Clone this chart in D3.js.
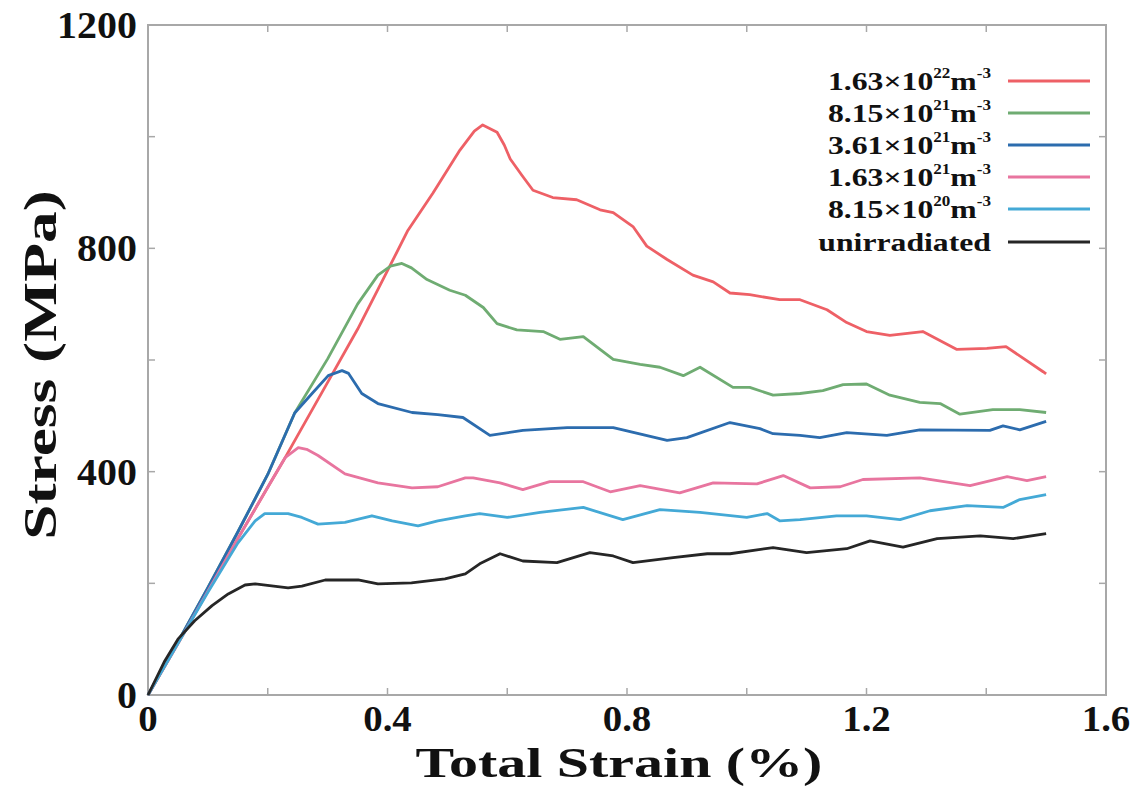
<!DOCTYPE html>
<html>
<head>
<meta charset="utf-8">
<script src="https://cdn.jsdelivr.net/npm/d3@7"></script>
<style>
  body { margin: 0; background: #fff; }
  text { font-family: "Liberation Serif", "Times New Roman", serif; font-weight: bold; fill: #111; }
</style>
</head>
<body>
<svg></svg>
<script>
const width = 1139;
const height = 789;

// strain (%) vs stress (MPa)
const red = [[0,0],[0.05,92],[0.1,186],[0.15,280],[0.2,372],[0.229,425],[0.25,465],[0.3,560],[0.35,655],[0.4,760],[0.434,832],[0.476,899],[0.521,976],[0.545,1010],[0.559,1021],[0.583,1008],[0.595,985],[0.605,960],[0.625,930],[0.643,904],[0.676,891],[0.716,887],[0.755,869],[0.777,864],[0.81,839],[0.833,804],[0.867,780],[0.91,752],[0.944,740],[0.972,720],[1.005,717],[1.055,708],[1.089,708],[1.134,690],[1.167,667],[1.2,651],[1.239,644],[1.294,651],[1.351,619],[1.401,621],[1.433,624],[1.495,579],[1.5,575]];
const green = [[0,0],[0.05,95],[0.1,192],[0.15,292],[0.2,395],[0.245,505],[0.3,602],[0.35,700],[0.384,752],[0.405,768],[0.424,773],[0.44,765],[0.466,744],[0.504,725],[0.53,716],[0.56,694],[0.583,665],[0.616,654],[0.66,651],[0.688,637],[0.727,642],[0.777,601],[0.822,592],[0.855,587],[0.894,572],[0.922,587],[0.977,551],[1.005,551],[1.044,537],[1.089,540],[1.127,545],[1.161,556],[1.2,557],[1.239,537],[1.289,524],[1.323,522],[1.356,503],[1.411,511],[1.456,511],[1.5,506]];
const blue = [[0,0],[0.05,95],[0.1,192],[0.15,292],[0.2,395],[0.245,505],[0.274,540],[0.301,572],[0.324,581],[0.335,576],[0.357,540],[0.384,522],[0.441,506],[0.484,502],[0.526,497],[0.571,465],[0.626,474],[0.7,479],[0.777,479],[0.867,456],[0.9,461],[0.972,488],[1.022,477],[1.044,468],[1.089,465],[1.122,461],[1.167,470],[1.234,465],[1.289,475],[1.406,474],[1.428,482],[1.456,475],[1.5,490]];
const pink = [[0,0],[0.05,92],[0.1,186],[0.15,280],[0.2,372],[0.229,425],[0.251,443],[0.265,440],[0.284,429],[0.329,396],[0.384,380],[0.441,371],[0.484,373],[0.53,389],[0.543,389],[0.588,380],[0.626,368],[0.671,382],[0.727,382],[0.772,364],[0.822,375],[0.888,362],[0.944,380],[1.017,378],[1.061,393],[1.106,371],[1.156,373],[1.194,386],[1.289,389],[1.373,375],[1.435,391],[1.468,384],[1.5,391]];
const cyan = [[0,0],[0.05,92],[0.1,184],[0.15,272],[0.179,312],[0.195,325],[0.234,325],[0.257,318],[0.284,306],[0.329,309],[0.374,321],[0.408,312],[0.451,303],[0.484,312],[0.53,321],[0.554,325],[0.6,318],[0.655,327],[0.727,336],[0.793,314],[0.855,332],[0.922,327],[1.0,318],[1.034,325],[1.055,312],[1.089,314],[1.15,321],[1.2,321],[1.256,314],[1.306,330],[1.368,339],[1.428,336],[1.456,350],[1.5,359]];
const black = [[0,0],[0.028,61],[0.05,100],[0.078,133],[0.107,160],[0.134,181],[0.162,197],[0.179,199],[0.234,192],[0.257,195],[0.296,206],[0.351,206],[0.384,199],[0.44,201],[0.496,208],[0.53,217],[0.554,235],[0.588,253],[0.626,240],[0.683,237],[0.738,255],[0.777,249],[0.81,237],[0.877,246],[0.934,253],[0.972,253],[1.044,264],[1.1,255],[1.167,262],[1.206,276],[1.261,265],[1.318,280],[1.39,285],[1.445,280],[1.5,289]];

// legend: mantissa, exponent
const legendNames = [["1.63", "22"], ["8.15", "21"], ["3.61", "21"], ["1.63", "21"], ["8.15", "20"], ["unirradiated", null]];
const colors = ["#ee6066", "#6fac72", "#2c6cae", "#e8759f", "#44a9d6", "#262626"];
const series = [red, green, blue, pink, cyan, black];

const xTicks = [0, 0.4, 0.8, 1.2, 1.6];
const xMinor = [0.2, 0.6, 1.0, 1.4];
const yTicks = [0, 400, 800, 1200];
const yMinor = [200, 600, 1000];

const margin = { left: 148, right: 33, top: 25, bottom: 94 };

const svg = d3.select("svg")
    .attr("width", width)
    .attr("height", height);

const x = d3.scaleLinear().domain([0, 1.6]).range([margin.left, width - margin.right]);
const y = d3.scaleLinear().domain([0, 1200]).range([height - margin.bottom, margin.top]);

// frame
svg.append("rect")
    .attr("x", x(0)).attr("y", y(1200))
    .attr("width", x(1.6) - x(0)).attr("height", y(0) - y(1200))
    .attr("fill", "none").attr("stroke", "#a8a8a8").attr("stroke-width", 2);

// inward ticks on all four sides
const allX = xTicks.concat(xMinor).filter(d => d > 0 && d < 1.6);
const allY = yTicks.concat(yMinor).filter(d => d > 0 && d < 1200);
const tk = svg.append("g").attr("stroke", "#a8a8a8").attr("stroke-width", 1.5);
allX.forEach(d => {
    tk.append("line").attr("x1", x(d)).attr("x2", x(d)).attr("y1", y(0)).attr("y2", y(0) - 7);
    tk.append("line").attr("x1", x(d)).attr("x2", x(d)).attr("y1", y(1200)).attr("y2", y(1200) + 7);
});
allY.forEach(d => {
    tk.append("line").attr("y1", y(d)).attr("y2", y(d)).attr("x1", x(0)).attr("x2", x(0) + 7);
    tk.append("line").attr("y1", y(d)).attr("y2", y(d)).attr("x1", x(1.6)).attr("x2", x(1.6) - 7);
});

// tick labels
svg.append("g").selectAll("text").data(xTicks).enter().append("text")
    .attr("transform", d => `translate(${x(d)},${y(0) + 36}) scale(1.08,1)`)
    .attr("text-anchor", "middle")
    .style("font-size", "36px")
    .text(d => d === 0 ? "0" : d3.format(".1f")(d));

svg.append("g").selectAll("text").data(yTicks).enter().append("text")
    .attr("transform", d => `translate(${x(0) - 11},${y(d) + 13}) scale(1.08,1)`)
    .attr("text-anchor", "end")
    .style("font-size", "37px")
    .text(d => d);

// axis titles
svg.append("text")
    .attr("transform", `translate(${(x(0) + x(1.6)) / 2 - 8},${height - 12}) scale(1.38,1)`)
    .attr("text-anchor", "middle")
    .style("font-size", "42px")
    .text("Total Strain (%)");

svg.append("text")
    .attr("transform", `translate(56,${(y(0) + y(1200)) / 2 + 5}) rotate(-90) scale(1.38,1)`)
    .attr("text-anchor", "middle")
    .style("font-size", "46px")
    .text("Stress (MPa)");

// curves
const line = d3.line().x(d => x(d[0])).y(d => y(d[1]));
svg.append("g").selectAll("path").data(series).enter().append("path")
    .attr("d", line)
    .attr("fill", "none")
    .attr("stroke", (d, i) => colors[i])
    .attr("stroke-width", 2.8)
    .attr("stroke-linejoin", "round");

// legend
const legendY = [81, 113, 145, 177, 209, 242];
const lg = svg.append("g");
legendNames.forEach((n, i) => {
    lg.append("line")
        .attr("x1", 1008).attr("x2", 1090)
        .attr("y1", legendY[i]).attr("y2", legendY[i])
        .attr("stroke", colors[i]).attr("stroke-width", 3);
    const t = lg.append("text")
        .attr("transform", `translate(991,${legendY[i] + 9}) scale(1.22,1)`)
        .attr("text-anchor", "end")
        .style("font-size", "26px");
    if (n[1] === null) {
        t.text(n[0]);
    } else {
        t.append("tspan").text(n[0] + "×10");
        t.append("tspan").attr("dy", -12).style("font-size", "14px").text(n[1]);
        t.append("tspan").attr("dy", 12).text("m");
        t.append("tspan").attr("dy", -12).style("font-size", "14px").text("-3");
    }
});
</script>
</body>
</html>
